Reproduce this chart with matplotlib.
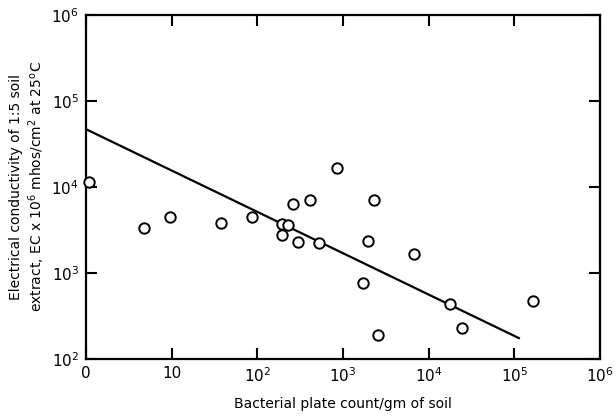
import numpy as np
import matplotlib
matplotlib.use("Agg")
import matplotlib.pyplot as plt

# bacterial plate count per gm of soil (0 plotted at 10^0)
count = [1.07, 4.75, 9.6, 37.6, 87, 195, 228, 195, 297, 262, 410, 850, 525,
         2290, 1950, 6700, 1700, 17800, 165000, 24500, 2560]
# EC x 10^6 mhos/cm^2 at 25C
ec = [11400, 3300, 4500, 3800, 4500, 3700, 3600, 2770, 2290, 6300, 7100,
      16600, 2230, 7100, 2360, 1660, 766, 437, 472, 230, 190]

# fitted line end points
line_x = [1, 113000]
line_y = [47000, 175]

xticks = [1, 10, 1e2, 1e3, 1e4, 1e5, 1e6]
xticklabels = ['0', '10', '$10^2$', '$10^3$', '$10^4$', '$10^5$', '$10^6$']
yticks = [1e2, 1e3, 1e4, 1e5, 1e6]
yticklabels = ['$10^2$', '$10^3$', '$10^4$', '$10^5$', '$10^6$']

plt.rcParams['mathtext.default'] = 'regular'
plt.rcParams['font.family'] = 'DejaVu Sans'

fig = plt.figure(figsize=(6.16, 4.16), dpi=100)
ax = fig.add_axes([0.1396, 0.137, 0.8344, 0.827])

ax.plot(line_x, line_y, color='black', linewidth=1.6, zorder=2)
ax.plot(count, ec, 'o', markersize=7.5, markerfacecolor='white',
        markeredgecolor='black', markeredgewidth=1.4, linestyle='none',
        zorder=3, clip_on=False)

ax.set_xscale('log')
ax.set_yscale('log')
ax.set_xlim(1, 1e6)
ax.set_ylim(1e2, 1e6)

ax.set_xticks(xticks)
ax.set_xticklabels(xticklabels, fontsize=11)
ax.set_yticks(yticks)
ax.set_yticklabels(yticklabels, fontsize=11)
ax.minorticks_off()
ax.tick_params(direction='in', length=8, width=1.5, top=True, right=True,
               pad=5)

for s in ax.spines.values():
    s.set_linewidth(1.6)

ax.set_xlabel('Bacterial plate count/gm of soil', fontsize=10, labelpad=9)
ax.set_ylabel('Electrical conductivity of 1:5 soil\n'
              'extract, EC x $10^6$ mhos/cm$^2$ at 25$^o$C',
              fontsize=10, labelpad=3)

fig.savefig('out.png', dpi=100)
